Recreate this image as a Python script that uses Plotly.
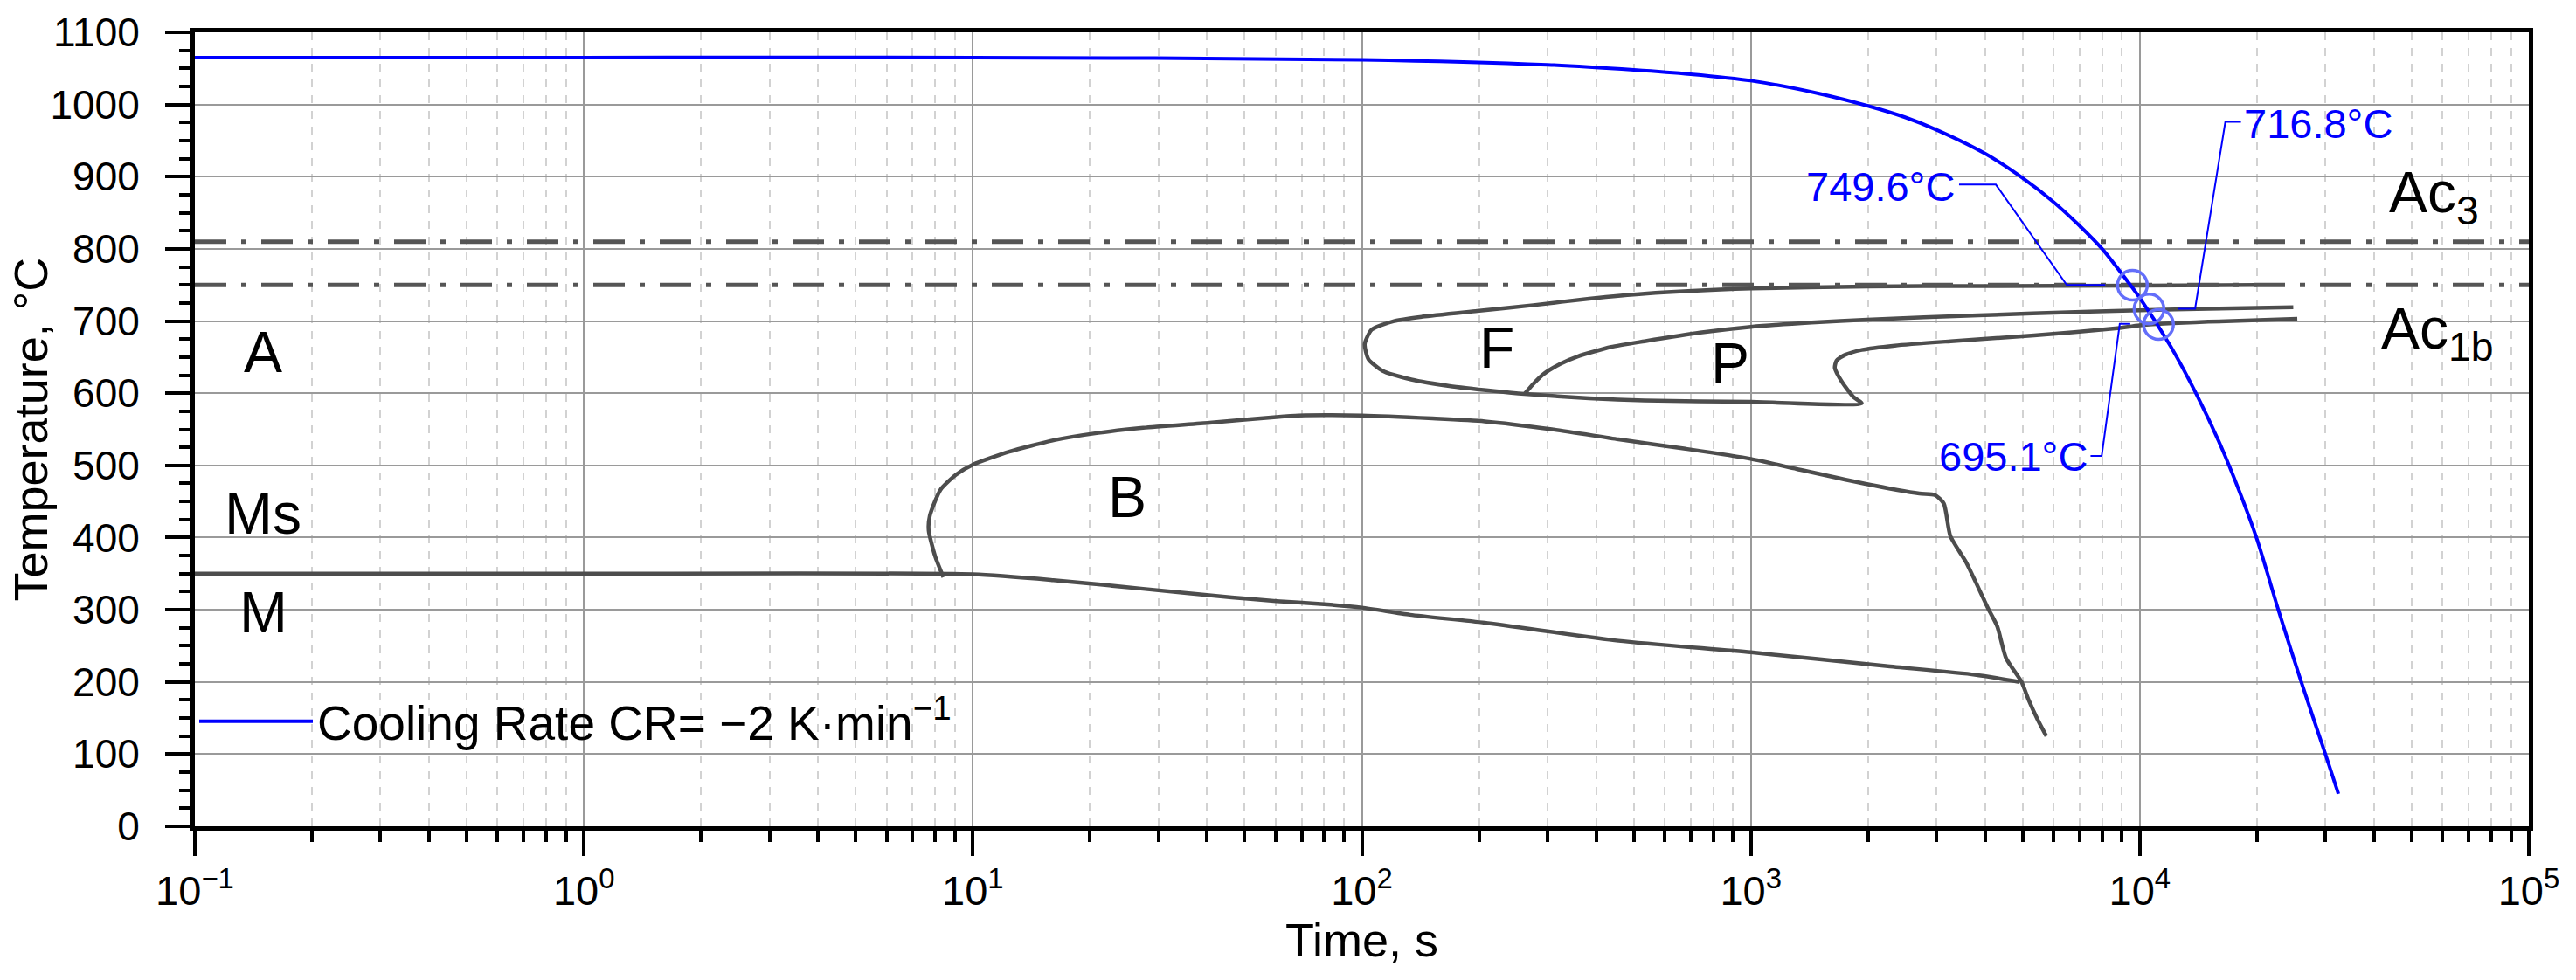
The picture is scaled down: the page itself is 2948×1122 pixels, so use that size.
import math
import plotly.graph_objects as go

# cooling curve (time in s, temperature in degC)
cool_t = [0.1, 1, 10, 100, 300, 500, 700, 1000, 1500, 2000, 2500, 3000, 4000, 5000, 6000, 7000,
          8000, 9000, 10000, 12000, 14000, 16000, 18000, 20000, 22700, 26000, 30000, 32400]
cool_T = [1065, 1065, 1065, 1062, 1055, 1048, 1042, 1033, 1015, 998, 982, 965, 932, 898, 865, 832,
          800, 765, 732, 665, 598, 532, 465, 398, 300, 200, 100, 45]

# ferrite start + pearlite finish boundary
ferrite_t = [20000, 10000, 3845, 1991, 1000, 533, 384, 276, 198, 143, 121, 106, 101.7, 104,
             113, 134, 168, 219, 262, 384, 533, 1000, 1928, 1834, 1718, 1644, 1660, 1745,
             1928, 2346, 3264, 5350, 8770, 10000, 15000, 25400]
ferrite_T = [750, 749, 748.5, 748, 745, 738, 731, 722, 714, 706, 700, 688, 668, 647,
             631, 619, 610, 603, 599, 593, 590, 588, 586, 595, 615, 635, 645, 653,
             660, 666, 672, 680, 690, 694, 699, 703]

# pearlite start
pearlite_t = [262, 276, 294, 325, 359, 437, 533, 741, 1000, 1433, 1991, 3845, 7430, 10000, 15000, 24800]
pearlite_T = [599, 613, 627, 641, 651, 664, 672, 684, 692, 698, 702, 708, 713, 715, 717, 719]

# bainite region
bainite_t = [8.4, 8.0, 7.7, 7.75, 8.25, 9.05, 10, 12.4, 16.2, 21, 27.4, 40.6, 60.3, 68.8, 100,
             152, 207, 308, 457, 679, 1000, 1313, 1950, 2712, 2973, 3135, 3258, 3574, 4080,
             4300, 4530, 4966, 5170, 5460, 5750]
bainite_T = [345, 374, 410, 430, 466, 487, 501, 519, 535, 545, 552, 559, 567, 569, 569,
             565, 561, 550, 536, 523, 509, 495, 475, 461, 459, 447, 402, 366, 301,
             277, 233, 200, 176, 148, 125]

# Ms / martensite line
ms_t = [0.1, 1, 10, 16.1, 27.4, 46.3, 60.3, 78.5, 100, 133, 207, 457, 1000, 2223, 3767, 4900]
ms_T = [350, 350, 349, 341, 329, 317, 312, 308, 303, 293, 282, 257, 241, 222, 210, 200]

# critical temperatures
Ac3 = 810
Ac1b = 750
t_span = [0.1, 100000]

# marked intersections of the cooling curve
mark_t = [9570, 10560, 11170]
mark_T = [749.6, 716.8, 695.1]
mark_text = ["749.6°C", "716.8°C", "695.1°C"]
mark_label_t = [2150, 28700, 4720]
mark_label_T = [887, 974, 513]
lead749_t = [3430, 4265, 6490, 8150]
lead749_T = [889, 889, 750, 750]
lead716_t = [18200, 16590, 13870, 12560]
lead716_T = [976, 976, 717, 717]
lead695_t = [7470, 7980, 8880, 9450]
lead695_T = [513, 513, 696, 696]

# region labels
region_text = ["A", "Ms", "M", "F", "P", "B", "Ac<sub>3</sub>", "Ac<sub>1b</sub>"]
region_t = [0.15, 0.15, 0.15, 222, 887, 25, 57000, 58000]
region_T = [657, 433, 296, 663, 641, 456, 872, 684]

xtick_vals = [0.1, 1, 10, 100, 1000, 10000, 100000]
xtick_text = ["10<sup>−1</sup>", "10<sup>0</sup>", "10<sup>1</sup>", "10<sup>2</sup>",
              "10<sup>3</sup>", "10<sup>4</sup>", "10<sup>5</sup>"]

FONT = "Arial, Liberation Sans, sans-serif"
GRAY = "#4d4d4d"
BLUE = "#0000ff"

fig = go.Figure()

for tt, TT in [(ferrite_t, ferrite_T), (pearlite_t, pearlite_T), (bainite_t, bainite_T), (ms_t, ms_T)]:
    fig.add_trace(go.Scatter(x=tt, y=TT, mode="lines",
                             line=dict(color=GRAY, width=4.5, shape="spline", smoothing=0.6),
                             showlegend=False, hoverinfo="skip"))

for level in [Ac3, Ac1b]:
    fig.add_trace(go.Scatter(x=t_span, y=[level, level], mode="lines",
                             line=dict(color="#555555", width=5, dash="36px,17px,6px,17px"),
                             showlegend=False, hoverinfo="skip"))

for tt, TT in [(lead749_t, lead749_T), (lead716_t, lead716_T), (lead695_t, lead695_T)]:
    fig.add_trace(go.Scatter(x=tt, y=TT, mode="lines", line=dict(color=BLUE, width=2),
                             showlegend=False, hoverinfo="skip"))

fig.add_trace(go.Scatter(x=cool_t, y=cool_T, mode="lines",
                         line=dict(color=BLUE, width=4, shape="spline", smoothing=0.8),
                         name="Cooling Rate CR= −2 K·min<sup>−1</sup>"))

fig.add_trace(go.Scatter(x=mark_t, y=mark_T, mode="markers", showlegend=False, hoverinfo="skip",
                         marker=dict(symbol="circle-open", size=34, line=dict(color="#1f86e6", width=3.5))))

# annotations on a log axis take log10 positions
for txt, tx, ty in zip(mark_text, mark_label_t, mark_label_T):
    fig.add_annotation(x=math.log10(tx), y=ty, text=txt, showarrow=False, xref="x", yref="y",
                       font=dict(family=FONT, size=47, color=BLUE))

for txt, tx, ty in zip(region_text, region_t, region_T):
    fig.add_annotation(x=math.log10(tx), y=ty, text=txt, showarrow=False, xref="x", yref="y",
                       font=dict(family=FONT, size=66, color="black"))

# y title as a rotated annotation so it sits where the original has it
fig.add_annotation(x=-0.0704, y=0.5, xref="paper", yref="paper", text="Temperature, °C",
                   textangle=-90, showarrow=False, xanchor="center", yanchor="middle",
                   font=dict(family=FONT, size=54, color="black"))

# page body keeps an 8px margin, so the figure is 16px smaller than the window
fig.update_layout(
    width=2932, height=1106,
    margin=dict(l=215, r=46, t=29, b=168),
    plot_bgcolor="white", paper_bgcolor="white",
    font=dict(family=FONT, size=47, color="black"),
    legend=dict(x=0.0, y=0.132, xanchor="left", yanchor="middle", bgcolor="rgba(0,0,0,0)",
                font=dict(size=55), itemwidth=130),
    xaxis=dict(type="log", range=[-1, 5], tickvals=xtick_vals, ticktext=xtick_text,
               automargin=False,
               ticks="outside", ticklen=29, tickwidth=4, tickcolor="black",
               showline=True, linecolor="black", linewidth=5, mirror=True,
               showgrid=True, gridcolor="#9a9a9a", gridwidth=2, zeroline=False,
               tickfont=dict(size=47),
               minor=dict(dtick="D1", ticks="outside", ticklen=13, tickwidth=4, tickcolor="black",
                          showgrid=True, gridcolor="#d2d2d2", gridwidth=1.5, griddash="dash"),
               title=dict(text="Time, s", font=dict(size=54), standoff=0)),
    yaxis=dict(range=[0, 1100], dtick=100, ticks="outside", ticklen=29, tickwidth=4,
               automargin=False,
               tickcolor="black", showline=True, linecolor="black", linewidth=5, mirror=True,
               showgrid=True, gridcolor="#9a9a9a", gridwidth=2, zeroline=False,
               tickfont=dict(size=46), ticklabelstandoff=20,
               minor=dict(dtick=25, ticks="outside", ticklen=13, tickwidth=4, tickcolor="black",
                          showgrid=False)),
)

fig.write_html("out.html")
